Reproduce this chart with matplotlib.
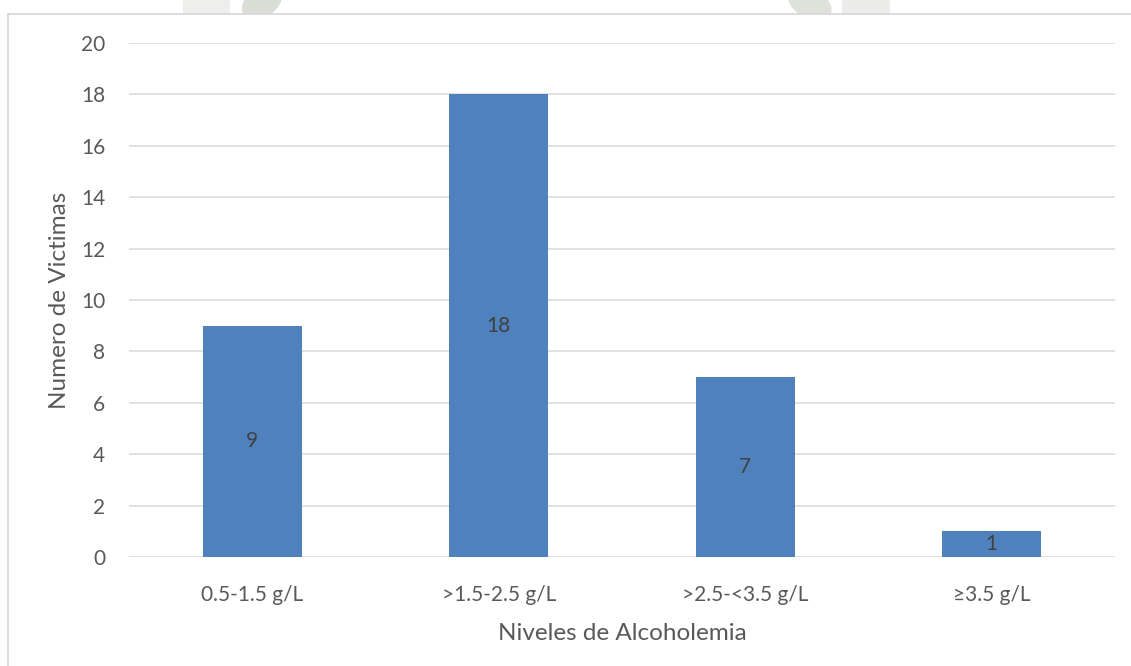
import matplotlib.pyplot as plt
from matplotlib.patches import Ellipse, Rectangle
import numpy as np

# blood alcohol ranges and number of victims in each
niveles = ["0.5-1.5 g/L", ">1.5-2.5 g/L", ">2.5-<3.5 g/L", "≥3.5 g/L"]
victimas = [9, 18, 7, 1]
y_ticks = [0, 2, 4, 6, 8, 10, 12, 14, 16, 18, 20]

plt.rcParams['font.family'] = ['Lato', 'DejaVu Sans']
txt_color = "#595959"
grid_color = "#D9D9D9"
bar_color = "#4F81BD"

W, H = 1131, 666
fig = plt.figure(figsize=(W / 100, H / 100), dpi=100)
fig.patch.set_facecolor("white")

# background layer in pixel units: frame and faded logo pieces at the top edge
bg = fig.add_axes([0, 0, 1, 1], zorder=0)
bg.set_xlim(0, W)
bg.set_ylim(H, 0)
bg.axis("off")
bg.add_patch(Rectangle((183, -5), 47, 19, color="#EEEFEC", lw=0))
bg.add_patch(Ellipse((262, 2), 44, 30, angle=-35, color="#D9DDD5", lw=0))
bg.add_patch(Ellipse((810, 4), 46, 28, angle=25, color="#DEE2DB", lw=0))
bg.add_patch(Rectangle((842, -5), 48, 19, color="#ECEDEA", lw=0))
bg.add_patch(Rectangle((8, 14), W, H, facecolor="white", edgecolor="none"))
bg.plot([8, W], [14, 14], color=grid_color, lw=1.3)
bg.plot([8, 8], [14, H], color=grid_color, lw=1.3)

ax = fig.add_axes([129 / W, 1 - 557 / H, 986 / W, 514 / H], zorder=1)
ax.set_facecolor("none")

x = np.arange(len(niveles))
bars = ax.bar(x, victimas, width=0.4, color=bar_color, zorder=2)
for b, v in zip(bars, victimas):
    ax.text(b.get_x() + b.get_width() / 2, v / 2, str(v), ha="center", va="center",
            fontsize=15, color="#404040", zorder=3)

ax.set_xlim(-0.5, len(niveles) - 0.5)
ax.set_ylim(0, 20)
ax.set_yticks(y_ticks)
ax.set_xticks(x)
ax.set_xticklabels(niveles)
ax.yaxis.grid(True, color=grid_color, lw=1.1, zorder=0)
ax.set_axisbelow(True)
for s in ax.spines.values():
    s.set_visible(False)
ax.tick_params(axis="both", length=0, labelsize=15, colors=txt_color)
ax.tick_params(axis="y", pad=17)
ax.tick_params(axis="x", pad=20)

ax.set_xlabel("Niveles de Alcoholemia", fontsize=17.5, color=txt_color, labelpad=13)
ax.set_ylabel("Numero de Victimas", fontsize=17.5, color=txt_color, labelpad=8)

fig.savefig("out.png", dpi=100)
